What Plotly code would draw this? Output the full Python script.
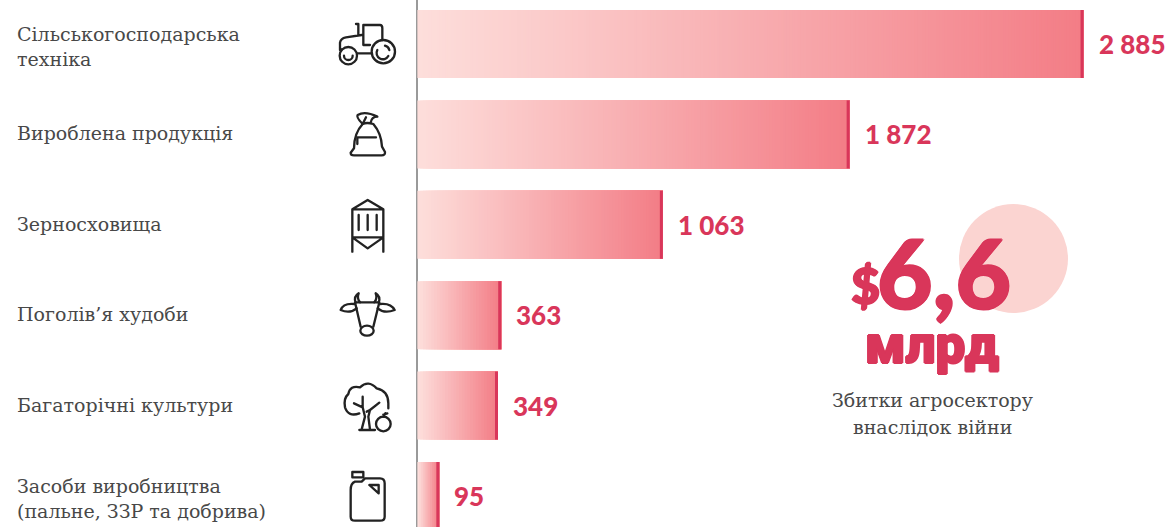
import base64
import plotly.graph_objects as go

categories = ["Сільськогосподарська<br>техніка", "Вироблена продукція", "Зерносховища",
              "Поголів’я худоби", "Багаторічні культури", "Засоби виробництва<br>(пальне, ЗЗР та добрива)"]
values = [2885, 1872, 1063, 363, 349, 95]
value_labels = ["2 885", "1 872", "1 063", "363", "349", "95"]

W, H = 1167, 527
X0_PX = 417.4
PX_PER_UNIT = 0.2309
ROW0_PX, ROW_PITCH = 44.0, 90.4
BAR_W = 68.0 / ROW_PITCH
START, END = (253, 222, 219), (243, 125, 134)
RED = "#d9365a"
TXT = "#484848"
LABEL_FONT = "DejaVu Serif"
CAP_UNITS = 3 / PX_PER_UNIT
HEAVY = "1px 0 0 #d9365a, -1px 0 0 #d9365a, 0 1px 0 #d9365a, 0 -1px 0 #d9365a"

ys, bases, widths, colors = [], [], [], []
for cat, v in zip(categories, values):
    n = max(12, v // 12)
    for i in range(n):
        t = i / (n - 1)
        ys.append(cat)
        bases.append(v * i / n)
        widths.append(v - v * i / n)
        colors.append("rgb(%d,%d,%d)" % tuple(round(a + (b - a) * t) for a, b in zip(START, END)))

fig = go.Figure()
fig.add_trace(go.Bar(orientation="h", y=ys, x=widths, base=bases, width=BAR_W,
                     marker=dict(color=colors, line=dict(width=0)), hoverinfo="skip", showlegend=False))
fig.add_trace(go.Bar(orientation="h", y=categories, x=[CAP_UNITS] * len(values),
                     base=[v - CAP_UNITS for v in values], width=BAR_W,
                     marker=dict(color=RED, line=dict(width=0)), hoverinfo="skip", showlegend=False))

ann = []
for cat, v, lab in zip(categories, values, value_labels):
    ann.append(dict(x=v, y=cat, xref="x", yref="y", text=lab, showarrow=False, xanchor="left", xshift=13,
                    font=dict(family="Lato", size=26, color=RED, weight=900)))
    ann.append(dict(x=17 / W, y=cat, xref="paper", yref="y", text=cat, showarrow=False, xanchor="left",
                    align="left", xshift=-2, yshift=-2 if "<br>" in cat else 1,
                    font=dict(family=LABEL_FONT, size=19, color=TXT)))


def free(x, y, text, family, size, color, weight=400, shadow=None):
    font = dict(family=family, size=size, color=color, weight=weight)
    if shadow:
        font["shadow"] = shadow
    ann.append(dict(x=x / W, y=1 - y / H, xref="paper", yref="paper", text=text, showarrow=False,
                    xanchor="center", yanchor="middle", font=font))


free(865, 285, "$", "Lato", 50, RED, 900, HEAVY)
free(944, 271, "6,6", "Lato", 96, RED, 900, HEAVY)
free(932, 345, "млрд", "Roboto", 53, RED, 900, HEAVY)
free(932, 400, "Збитки агросектору", LABEL_FONT, 19, TXT)
free(932, 427, "внаслідок війни", LABEL_FONT, 19, TXT)

svg = """<svg xmlns="http://www.w3.org/2000/svg" width="120" height="527" viewBox="0 0 360 1581">
<g fill="none" stroke="#222222" stroke-width="7" stroke-linecap="round" stroke-linejoin="round">
<circle cx="190" cy="155" r="35"/><path d="M172,150 A18,18 0 0 0 205,168"/><path d="M195,137 A18,18 0 0 1 208,150"/>
<circle cx="85" cy="167" r="26"/><path d="M72,167 A13,13 0 0 0 98,167"/>
<path d="M60,150 V128 Q62,115 78,112 L125,105 M108,72 H115 V105 M130,135 V75 H180 Q187,75 187,85 V120 M130,135 H150 M112,160 H155 M60,150 L65,148"/>
<path d="M92,458 Q92,466 102,466 H185 Q196,466 195,456 L186,440 Q184,400 160,372 Q140,366 128,372 Q102,400 102,445 Z"/>
<path d="M128,372 Q108,352 113,345 Q135,332 172,350 Q155,350 152,368 M128,372 L138,352 M112,432 V412 H168"/>
<path d="M97,755 V628 L143,600 L190,628 V755 M97,628 H190 M97,712 H190 M97,712 L143,745 L190,712 M116,645 V690 M143,645 V690 M170,645 V690"/>
<g transform="translate(0,810)">
<path d="M105,97 H178 L160,170 M105,97 L122,170"/><ellipse cx="141" cy="182" rx="20" ry="15"/>
<path d="M107,97 Q100,80 116,70 Q110,85 120,97 M176,97 Q183,80 167,70 Q173,85 163,97"/>
<path d="M104,102 Q70,98 62,120 Q90,132 110,115 M179,102 Q213,98 224,120 Q193,132 173,115"/>
<path d="M118,430 Q85,442 75,412 Q70,385 85,372 Q90,345 120,352 Q145,328 170,355 Q205,362 205,400 V415"/>
<path d="M118,480 H165 M128,380 L128,412 L102,400 M128,412 L135,440 L125,478 M150,420 L178,398 M150,420 L145,440 L150,478 M140,425 L150,420"/>
<circle cx="190" cy="462" r="22"/><path d="M190,440 L196,430 M190,434 L202,430"/>
<path d="M97,622 V606 H130 V622 Z"/>
<path d="M92,660 V740 Q92,752 105,752 H180 Q194,752 194,740 V640 Q194,625 180,625 H135 L125,635 H105 Q92,640 92,660 Z M148,645 H176 V670 Z"/>
</g></g></svg>"""
src = "data:image/svg+xml;base64," + base64.b64encode(svg.encode()).decode()

fig.update_layout(
    width=W, height=H, margin=dict(l=0, r=0, t=0, b=0), barmode="overlay",
    paper_bgcolor="white", plot_bgcolor="white", annotations=ann,
    xaxis=dict(range=[-X0_PX / PX_PER_UNIT, (W - X0_PX) / PX_PER_UNIT], visible=True, showgrid=False,
               showticklabels=False, ticks="", zeroline=True, zerolinecolor="#9a9a9a", zerolinewidth=2),
    yaxis=dict(type="category", categoryorder="array", categoryarray=categories,
               range=[(H - ROW0_PX) / ROW_PITCH, -ROW0_PX / ROW_PITCH],
               showgrid=False, showticklabels=False, ticks="", zeroline=False),
    shapes=[dict(type="circle", xref="paper", yref="paper", layer="below",
                 x0=959 / W, x1=1068 / W, y0=1 - 313 / H, y1=1 - 204 / H,
                 fillcolor="#fbd4d1", line=dict(width=0))],
    images=[dict(source=src, xref="paper", yref="paper", x=320 / W, y=1, sizex=120 / W, sizey=1,
                 xanchor="left", yanchor="top", sizing="stretch", layer="above")],
)
fig.write_html("out.html", config=dict(displayModeBar=False),
               post_script="document.body.style.margin='0';document.body.style.overflow='hidden';")
